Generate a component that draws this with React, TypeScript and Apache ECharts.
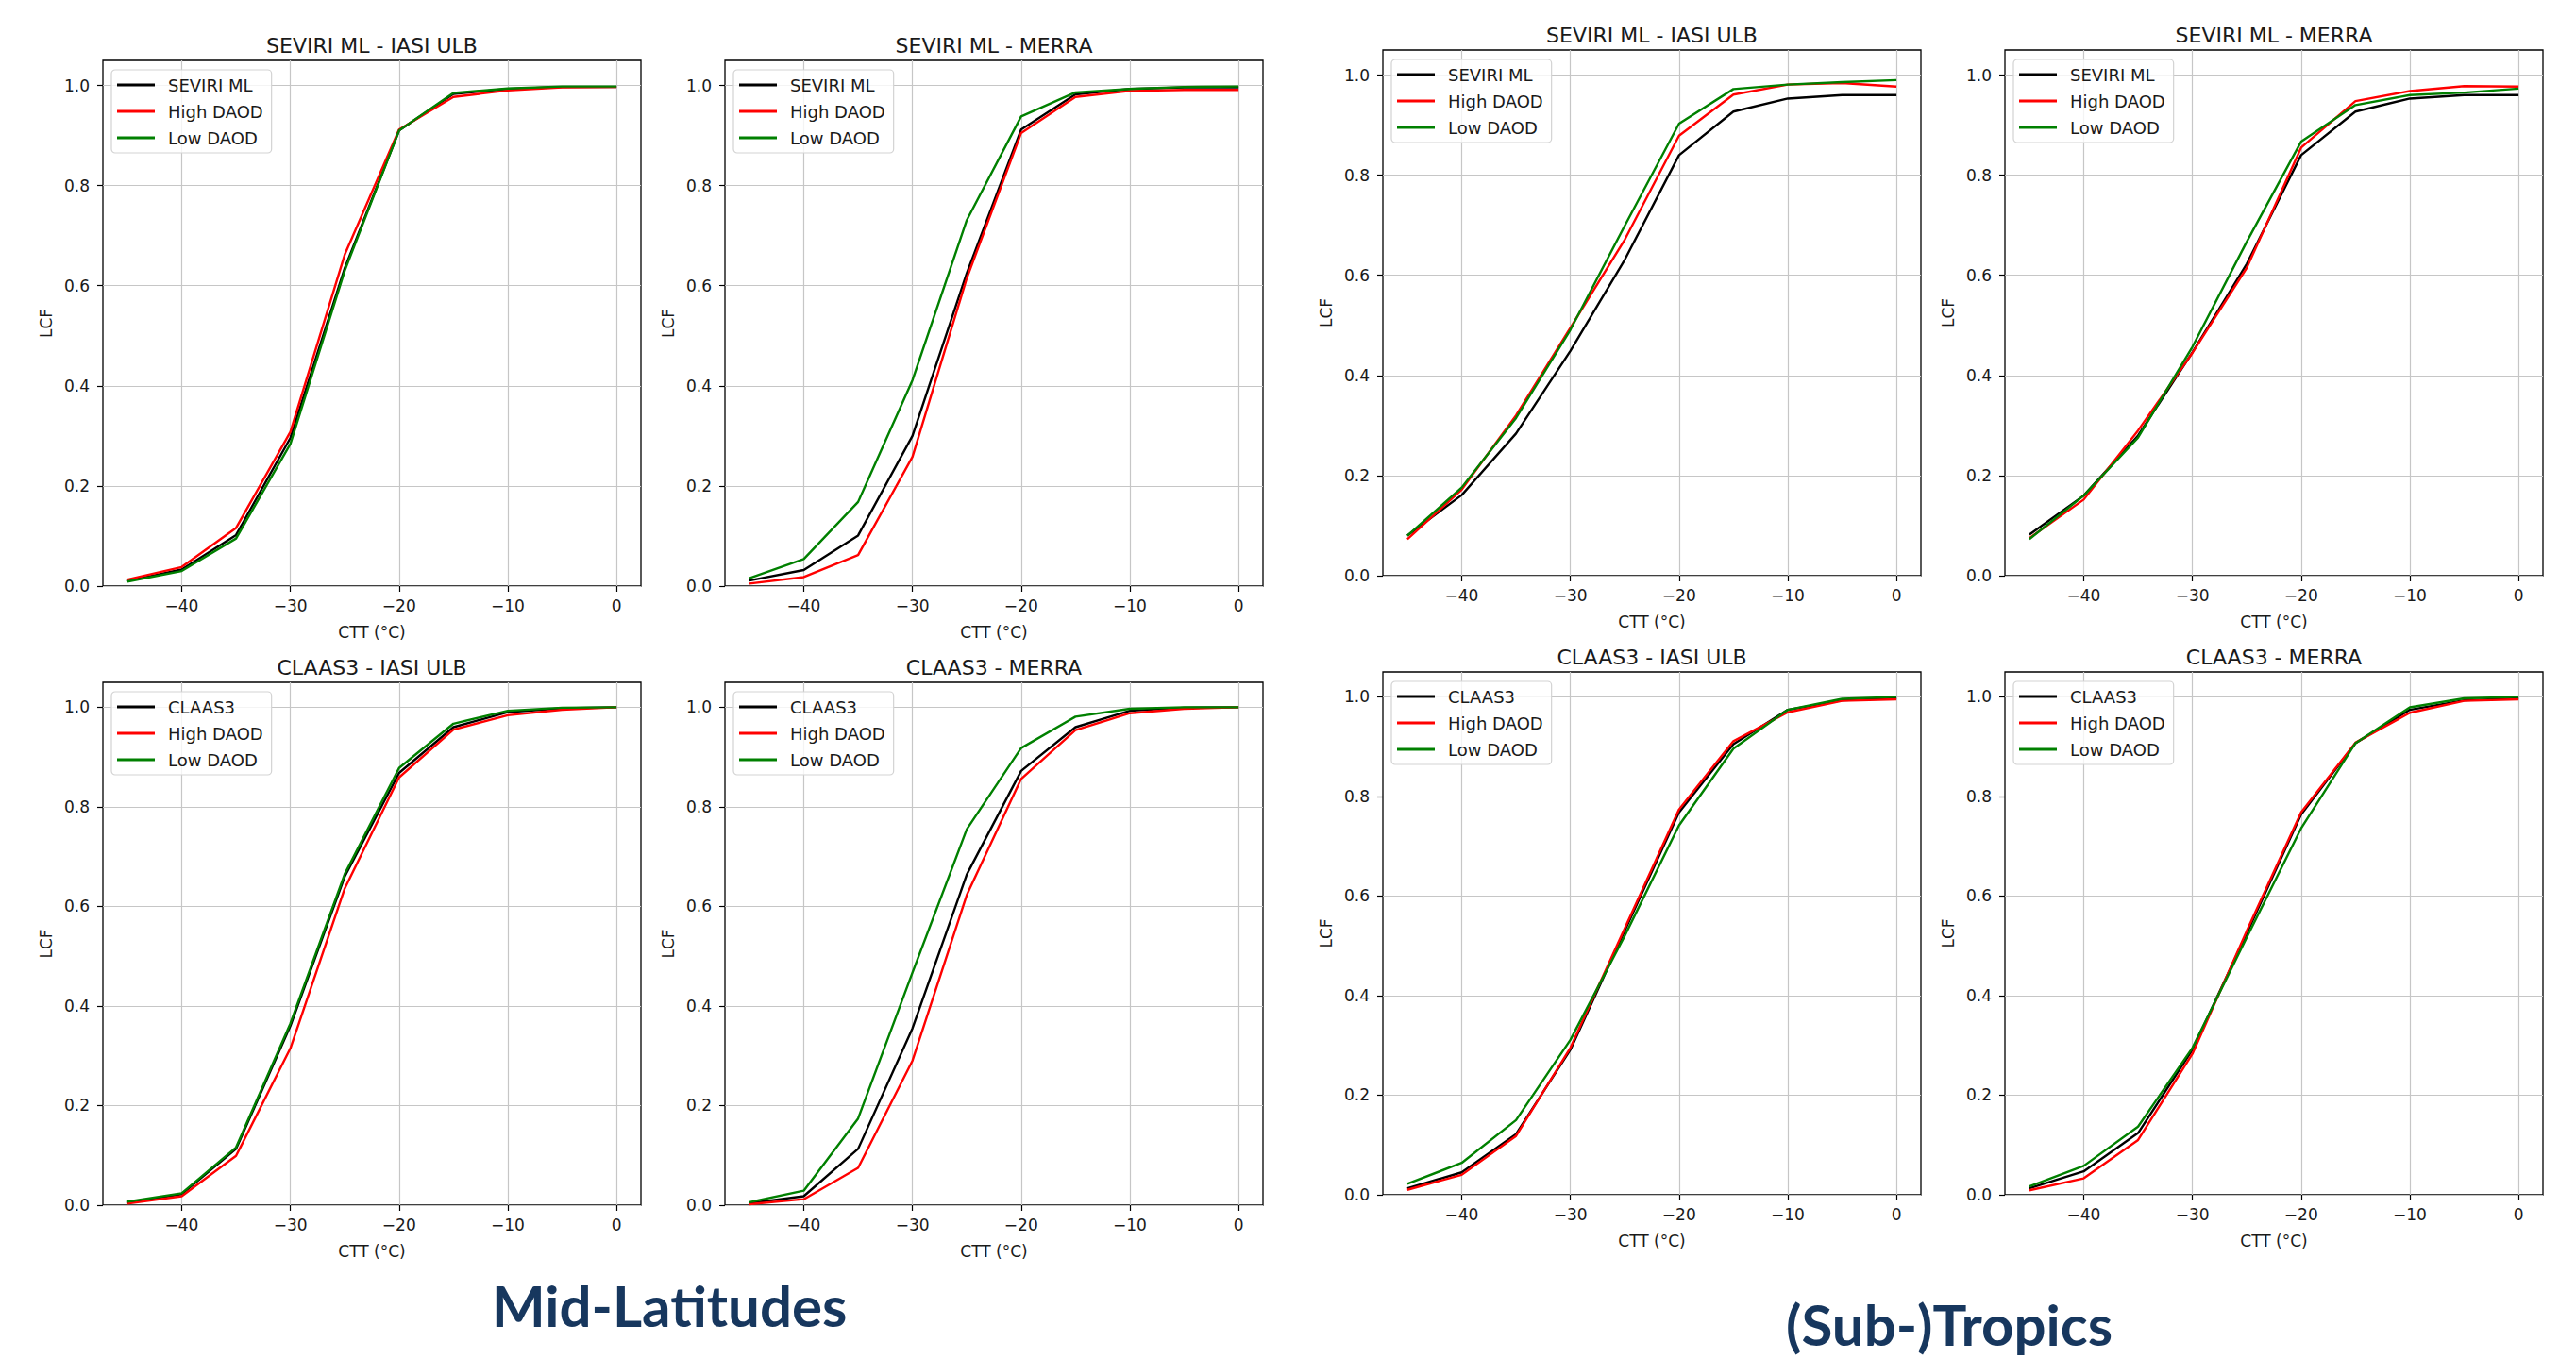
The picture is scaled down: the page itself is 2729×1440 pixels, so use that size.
import React, { useEffect, useRef } from "react";
import * as echarts from "echarts";

// CTT bins (°C)
const CTT = [-45, -40, -35, -30, -25, -20, -15, -10, -5, 0];
const X_TICKS = [-40, -30, -20, -10, 0];
const Y_TICKS = [0, 0.2, 0.4, 0.6, 0.8, 1.0];
const SERIES_NAMES_SEVIRI = ["SEVIRI ML", "High DAOD", "Low DAOD"];
const SERIES_NAMES_CLAAS = ["CLAAS3", "High DAOD", "Low DAOD"];
const REGION_LABELS = ["Mid-Latitudes", "(Sub-)Tropics"];

// Mid-Latitudes: SEVIRI ML - IASI ULB
const midSevIasiAll = [0.010, 0.033, 0.102, 0.296, 0.635, 0.910, 0.983, 0.993, 0.997, 0.997];
const midSevIasiHigh = [0.013, 0.038, 0.116, 0.308, 0.662, 0.912, 0.977, 0.990, 0.996, 0.997];
const midSevIasiLow = [0.009, 0.030, 0.095, 0.284, 0.630, 0.910, 0.985, 0.994, 0.998, 0.998];
// Mid-Latitudes: SEVIRI ML - MERRA
const midSevMerraAll = [0.011, 0.032, 0.101, 0.300, 0.625, 0.912, 0.982, 0.993, 0.996, 0.996];
const midSevMerraHigh = [0.005, 0.018, 0.062, 0.258, 0.615, 0.905, 0.977, 0.989, 0.991, 0.991];
const midSevMerraLow = [0.016, 0.054, 0.168, 0.411, 0.731, 0.938, 0.986, 0.993, 0.997, 0.998];
// (Sub-)Tropics: SEVIRI ML - IASI ULB
const tropSevIasiAll = [0.080, 0.161, 0.284, 0.449, 0.631, 0.840, 0.927, 0.953, 0.960, 0.960];
const tropSevIasiHigh = [0.073, 0.172, 0.320, 0.495, 0.671, 0.879, 0.961, 0.981, 0.984, 0.977];
const tropSevIasiLow = [0.080, 0.176, 0.315, 0.491, 0.699, 0.903, 0.972, 0.981, 0.986, 0.990];
// (Sub-)Tropics: SEVIRI ML - MERRA
const tropSevMerraAll = [0.082, 0.160, 0.280, 0.446, 0.623, 0.840, 0.927, 0.953, 0.960, 0.960];
const tropSevMerraHigh = [0.075, 0.152, 0.290, 0.445, 0.615, 0.855, 0.948, 0.968, 0.978, 0.977];
const tropSevMerraLow = [0.073, 0.160, 0.276, 0.457, 0.667, 0.867, 0.940, 0.960, 0.965, 0.973];
// Mid-Latitudes: CLAAS3 - IASI ULB
const midClaIasiAll = [0.005, 0.022, 0.113, 0.360, 0.660, 0.868, 0.960, 0.990, 0.998, 1.000];
const midClaIasiHigh = [0.003, 0.018, 0.099, 0.315, 0.636, 0.859, 0.955, 0.984, 0.995, 1.000];
const midClaIasiLow = [0.007, 0.024, 0.116, 0.365, 0.665, 0.878, 0.967, 0.993, 0.999, 1.000];
// Mid-Latitudes: CLAAS3 - MERRA
const midClaMerraAll = [0.004, 0.018, 0.113, 0.355, 0.664, 0.872, 0.960, 0.993, 0.999, 1.000];
const midClaMerraHigh = [0.002, 0.012, 0.075, 0.290, 0.623, 0.856, 0.954, 0.988, 0.997, 1.000];
const midClaMerraLow = [0.006, 0.029, 0.174, 0.467, 0.755, 0.918, 0.981, 0.997, 1.000, 1.000];
// (Sub-)Tropics: CLAAS3 - IASI ULB
const tropClaIasiAll = [0.013, 0.045, 0.122, 0.291, 0.530, 0.768, 0.905, 0.974, 0.993, 0.997];
const tropClaIasiHigh = [0.010, 0.040, 0.118, 0.295, 0.535, 0.774, 0.911, 0.969, 0.992, 0.995];
const tropClaIasiLow = [0.022, 0.064, 0.150, 0.311, 0.520, 0.742, 0.896, 0.974, 0.996, 1.000];
// (Sub-)Tropics: CLAAS3 - MERRA
const tropClaMerraAll = [0.013, 0.047, 0.124, 0.291, 0.525, 0.764, 0.907, 0.974, 0.993, 0.997];
const tropClaMerraHigh = [0.009, 0.033, 0.110, 0.283, 0.530, 0.768, 0.908, 0.968, 0.992, 0.995];
const tropClaMerraLow = [0.017, 0.058, 0.137, 0.295, 0.517, 0.736, 0.907, 0.979, 0.997, 1.000];

const COLORS = ["#000000", "#ff0000", "#008000"];
const FONT = "DejaVu Sans";
const TXT = "#1a1a1a";

type Panel = {
  title: string;
  names: string[];
  values: number[][];
  left: number;
  top: number;
  width: number;
  height: number;
};

const PANELS: Panel[] = [
  { title: "SEVIRI ML - IASI ULB", names: SERIES_NAMES_SEVIRI, values: [midSevIasiAll, midSevIasiHigh, midSevIasiLow], left: 109, top: 64, width: 570, height: 557 },
  { title: "SEVIRI ML - MERRA", names: SERIES_NAMES_SEVIRI, values: [midSevMerraAll, midSevMerraHigh, midSevMerraLow], left: 768, top: 64, width: 570, height: 557 },
  { title: "SEVIRI ML - IASI ULB", names: SERIES_NAMES_SEVIRI, values: [tropSevIasiAll, tropSevIasiHigh, tropSevIasiLow], left: 1465, top: 53, width: 570, height: 557 },
  { title: "SEVIRI ML - MERRA", names: SERIES_NAMES_SEVIRI, values: [tropSevMerraAll, tropSevMerraHigh, tropSevMerraLow], left: 2124, top: 53, width: 570, height: 557 },
  { title: "CLAAS3 - IASI ULB", names: SERIES_NAMES_CLAAS, values: [midClaIasiAll, midClaIasiHigh, midClaIasiLow], left: 109, top: 723, width: 570, height: 554 },
  { title: "CLAAS3 - MERRA", names: SERIES_NAMES_CLAAS, values: [midClaMerraAll, midClaMerraHigh, midClaMerraLow], left: 768, top: 723, width: 570, height: 554 },
  { title: "CLAAS3 - IASI ULB", names: SERIES_NAMES_CLAAS, values: [tropClaIasiAll, tropClaIasiHigh, tropClaIasiLow], left: 1465, top: 712, width: 570, height: 554 },
  { title: "CLAAS3 - MERRA", names: SERIES_NAMES_CLAAS, values: [tropClaMerraAll, tropClaMerraHigh, tropClaMerraLow], left: 2124, top: 712, width: 570, height: 554 },
];

const fmtX = (v: number) => (v < 0 ? "\u2212" + Math.abs(v) : String(v));

function buildOption() {
  const grid: any[] = [];
  const xAxis: any[] = [];
  const yAxis: any[] = [];
  const series: any[] = [];
  const title: any[] = [];
  const legend: any[] = [];

  PANELS.forEach((p, i) => {
    grid.push({
      left: p.left,
      top: p.top,
      width: p.width,
      height: p.height,
      show: true,
      borderColor: "#000",
      borderWidth: 1.3,
      backgroundColor: "transparent",
      containLabel: false,
    });
    xAxis.push({
      type: "value",
      gridIndex: i,
      position: "bottom",
      min: -47.25,
      max: 2.25,
      name: "CTT (°C)",
      nameLocation: "middle",
      nameGap: 40,
      nameTextStyle: { fontFamily: FONT, fontSize: 17, color: TXT },
      axisLine: { show: false, onZero: false },
      axisTick: { show: true, inside: false, length: 6, customValues: X_TICKS, lineStyle: { color: "#000", width: 1.2 } },
      axisLabel: { customValues: X_TICKS, formatter: fmtX, fontFamily: FONT, fontSize: 17, color: TXT, margin: 12 },
      splitLine: { show: true, lineStyle: { color: "#c6c6c6", width: 1.2 } },
    });
    yAxis.push({
      type: "value",
      gridIndex: i,
      position: "left",
      min: 0,
      max: 1.05,
      name: "LCF",
      nameLocation: "middle",
      nameRotate: 90,
      nameGap: 52,
      nameTextStyle: { fontFamily: FONT, fontSize: 17, color: TXT },
      axisLine: { show: false, onZero: false },
      axisTick: { show: true, inside: false, length: 6, customValues: Y_TICKS, lineStyle: { color: "#000", width: 1.2 } },
      axisLabel: { customValues: Y_TICKS, formatter: (v: number) => v.toFixed(1), fontFamily: FONT, fontSize: 17, color: TXT, margin: 14 },
      splitLine: { show: true, lineStyle: { color: "#c6c6c6", width: 1.2 } },
    });
    p.names.forEach((name, k) => {
      series.push({
        type: "line",
        name,
        xAxisIndex: i,
        yAxisIndex: i,
        data: CTT.map((x, j) => [x, p.values[k][j]]),
        symbol: "none",
        showSymbol: false,
        itemStyle: { color: COLORS[k] },
        lineStyle: { color: COLORS[k], width: 2.4 },
        z: 3 + k,
      });
    });
    title.push({
      text: p.title,
      left: p.left + p.width / 2,
      top: p.top - 27,
      textAlign: "center",
      padding: 0,
      textStyle: { fontFamily: FONT, fontSize: 22, fontWeight: "normal", color: TXT },
    });
    legend.push({
      orient: "vertical",
      left: p.left + 9,
      top: p.top + 10,
      itemWidth: 40,
      itemHeight: 14,
      itemGap: 10,
      icon: "path://M0,0H40V3H0Z",
      data: p.names,
      selectedMode: false,
      backgroundColor: "rgba(255,255,255,0.8)",
      borderColor: "#d3d3d3",
      borderWidth: 1.2,
      borderRadius: 4,
      padding: [7, 9, 7, 6],
      textStyle: { fontFamily: FONT, fontSize: 18, color: TXT, lineHeight: 18, padding: [0, 0, 0, 9] },
    });
  });

  return {
    animation: false,
    backgroundColor: "#ffffff",
    grid,
    xAxis,
    yAxis,
    series,
    title,
    legend,
    graphic: [
      {
        type: "text",
        left: 706 - 185,
        top: 1387 - 34,
        style: { text: REGION_LABELS[0], fill: "#17375E", font: "bold 60px Lato", textAlign: "left" },
      },
      {
        type: "text",
        left: 2066 - 174,
        top: 1401 - 28,
        style: { text: REGION_LABELS[1], fill: "#17375E", font: "bold 60px Lato", textAlign: "left" },
      },
    ],
  };
}

export default function App() {
  const ref = useRef<HTMLDivElement>(null);
  useEffect(() => {
    if (!ref.current) return;
    const chart = echarts.init(ref.current, undefined, { renderer: "svg" });
    chart.setOption(buildOption() as any);
    return () => chart.dispose();
  }, []);
  return (
    <div
      ref={ref}
      style={{ position: "absolute", left: 0, top: 0, width: "2729px", height: "1440px", background: "#fff" }}
    />
  );
}
